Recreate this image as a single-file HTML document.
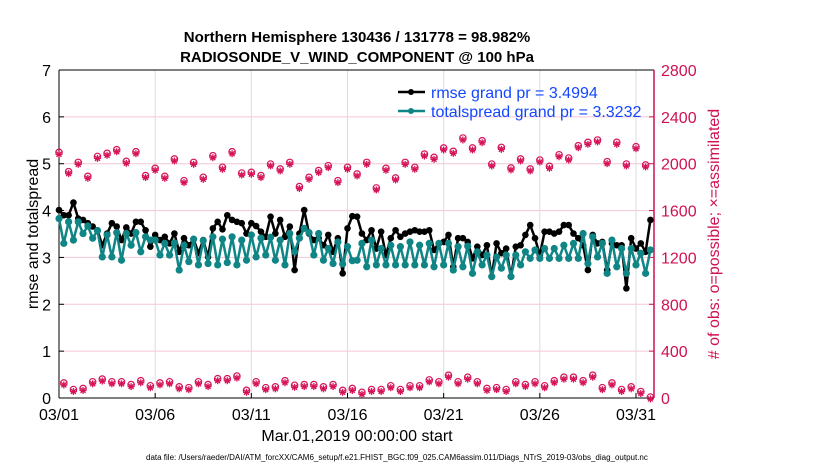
<!DOCTYPE html>
<html><head><meta charset="utf-8"><style>
body{margin:0;background:#fff;}
svg{display:block;font-family:"Liberation Sans",Arial,sans-serif;}
</style></head><body>
<svg id="chart" width="830" height="470" viewBox="0 0 830 470" xmlns="http://www.w3.org/2000/svg">
<rect width="830" height="470" fill="#fff"/>
<text x="357" y="42" text-anchor="middle" font-size="15" font-weight="bold" fill="#000">Northern Hemisphere 130436 / 131778 = 98.982%</text>
<text x="357" y="62" text-anchor="middle" font-size="15" font-weight="bold" fill="#000">RADIOSONDE_V_WIND_COMPONENT @ 100 hPa</text>
<g id="grid"></g>
<g id="axes"></g>
<g id="series"></g>
<text transform="translate(38,234) rotate(-90)" text-anchor="middle" font-size="16" fill="#000">rmse and totalspread</text>
<text transform="translate(719,234) rotate(-90)" text-anchor="middle" font-size="16" fill="#d0114f"># of obs: o=possible; ×=assimilated</text>
<text x="357" y="441" text-anchor="middle" font-size="16" fill="#000">Mar.01,2019 00:00:00 start</text>
<text x="146" y="460" font-size="8" fill="#000">data file: /Users/raeder/DAI/ATM_forcXX/CAM6_setup/f.e21.FHIST_BGC.f09_025.CAM6assim.011/Diags_NTrS_2019-03/obs_diag_output.nc</text>
<g>
<line x1="398" y1="92" x2="425" y2="92" stroke="#000" stroke-width="2.5"/>
<circle cx="411" cy="92" r="3" fill="#000"/>
<text x="431" y="98" font-size="16" fill="#1446ff">rmse grand pr = 3.4994</text>
<line x1="398" y1="111" x2="425" y2="111" stroke="#0f8585" stroke-width="2.5"/>
<circle cx="411" cy="111" r="3" fill="#0f8585"/>
<text x="431" y="117" font-size="16" fill="#1446ff">totalspread grand pr = 3.3232</text>
</g>
</svg>
<script>
const rmse=[4.01,3.90,3.90,4.17,3.83,3.80,3.73,3.66,3.58,3.26,3.51,3.73,3.66,3.37,3.64,3.51,3.76,3.76,3.58,3.23,3.48,3.37,3.44,3.30,3.51,3.12,3.41,3.26,3.39,3.09,3.37,3.01,3.62,3.76,3.60,3.90,3.80,3.76,3.73,3.51,3.73,3.67,3.55,3.44,3.87,3.51,3.80,3.44,3.66,2.73,3.51,4.01,3.51,3.37,3.41,3.26,3.48,3.12,3.41,2.66,3.62,3.88,
3.87,3.51,3.37,3.58,3.19,3.55,3.05,3.41,3.58,3.44,3.51,3.55,3.58,3.55,3.55,3.58,3.16,3.30,3.33,3.48,2.80,3.41,3.41,3.33,2.98,3.23,3.05,3.26,2.59,3.30,3.09,3.19,2.59,3.23,3.26,3.48,3.69,3.41,3.05,3.55,3.55,3.51,3.55,3.69,3.69,3.51,3.41,3.26,2.73,3.48,3.30,3.33,2.73,3.30,3.26,3.26,2.34,3.41,3.19,3.30,3.12,3.80];
const spread=[3.83,3.30,3.76,3.37,3.76,3.51,3.67,3.41,3.57,3.01,3.48,3.01,3.53,2.94,3.51,3.26,3.53,3.12,3.44,3.37,3.37,3.05,3.30,3.05,3.31,2.73,3.26,2.91,3.39,2.84,3.36,2.87,3.44,2.84,3.39,2.89,3.44,2.84,3.37,2.94,3.48,3.01,3.41,3.05,3.43,2.94,3.37,2.84,3.51,3.12,3.41,3.62,3.53,3.05,3.51,2.94,3.19,2.87,3.33,2.86,3.23,2.93,
2.94,3.30,2.80,3.37,2.84,3.19,2.84,3.26,2.84,3.23,2.84,3.33,2.84,3.26,2.84,3.30,2.80,3.30,2.84,3.30,2.73,3.23,2.80,3.24,2.66,3.12,2.84,3.05,2.59,3.01,2.77,3.05,2.59,3.05,2.84,3.12,2.98,3.16,2.98,3.19,2.98,3.19,2.98,3.26,2.98,3.30,2.98,3.51,2.87,3.44,3.01,3.30,2.66,3.37,2.80,3.19,2.66,3.19,2.84,3.09,2.66,3.16];
const obsMain=[2089,1924,2003,1884,2054,2080,2111,2012,2094,1890,1952,1884,2032,1847,2003,1875,2060,1961,2094,1912,1918,1890,1989,1947,2003,1796,1875,1933,1975,1847,1961,1904,
2003,1785,1952,1870,2003,1961,2074,2046,2126,2097,2211,2126,2188,1989,2131,1955,2032,1947,2023,1969,2068,2040,2145,2174,2194,2009,2174,1989,2137,1981];
const obsOff=[120,64,73,130,153,130,130,106,139,96,120,130,87,80,130,106,156,156,179,57,130,80,87,139,100,106,106,87,106,57,73,40,64,64,96,64,96,96,146,130,186,130,169,130,73,80,64,130,106,130,96,139,169,169,139,186,80,120,64,87,47,0];
const leftTicks=[0,1,2,3,4,5,6,7];
const rightTicks=[0,400,800,1200,1600,2000,2400,2800];
const dateTicks=["03/01","03/06","03/11","03/16","03/21","03/26","03/31"];
const dateTickDays=[0,5,10,15,20,25,30];

const X0=59,X1=654,Y0=398,Y1=70,PXDAY=19.233;
const xs=d=>X0+d*PXDAY;
const yl=v=>Y0-(v/7)*(Y0-Y1);
const yr=c=>Y0-(c/2800)*(Y0-Y1);
const NS="http://www.w3.org/2000/svg";
function mk(tag,attrs,parent){const e=document.createElementNS(NS,tag);for(const k in attrs)e.setAttribute(k,attrs[k]);parent.appendChild(e);return e;}
const grid=document.getElementById('grid'),axes=document.getElementById('axes'),ser=document.getElementById('series');

leftTicks.forEach(v=>{
  if(v>0&&v<7){const g=mk('line',{x1:X0,x2:X1,y1:yl(v),y2:yl(v),stroke:'#f2c8d6','stroke-width':1},grid);
  
  }
  const t=mk('text',{x:X0-8,y:yl(v)+6,'text-anchor':'end','font-size':16,fill:'#000'},axes);t.textContent=v;
  
  
  mk('line',{x1:X0,x2:X0+5,y1:yl(v),y2:yl(v),stroke:'#000'},axes);
});
rightTicks.forEach(c=>{
  const t=mk('text',{x:X1+7,y:yr(c)+6,'font-size':16,fill:'#d0114f'},axes);t.textContent=c;
  
  
  mk('line',{x1:X1-5,x2:X1,y1:yr(c),y2:yr(c),stroke:'#d0114f'},axes);
});
dateTicks.forEach((lab,i)=>{
  const x=xs(dateTickDays[i]);
  if(i>0){const g=mk('line',{x1:x,x2:x,y1:Y1,y2:Y0,stroke:'#dcdcdc','stroke-width':1},grid);
  
  }
  mk('line',{x1:x,x2:x,y1:Y0,y2:Y0-5,stroke:'#000'},axes);
  const t=mk('text',{x:x,y:Y0+22,'text-anchor':'middle','font-size':16,fill:'#000'},axes);t.textContent=lab;
  
  
});
mk('line',{x1:X0,x2:X1,y1:Y0,y2:Y0,stroke:'#000'},axes);
mk('line',{x1:X0,x2:X1,y1:Y1,y2:Y1,stroke:'#000'},axes);
mk('line',{x1:X0,x2:X0,y1:Y1,y2:Y0,stroke:'#000'},axes);
mk('line',{x1:X1,x2:X1,y1:Y1,y2:Y0,stroke:'#d0114f','stroke-width':1.5},axes);

function obsMarker(x,y,name){
  const g=mk('g',{},ser);
  
  
  const c='#d6145a';
  mk('circle',{cx:x,cy:y-1,r:3.2,fill:'none',stroke:c,'stroke-width':1.2},g);
  for(let a=0;a<4;a++){const an=a*Math.PI/4;mk('line',{x1:x-3.5*Math.cos(an),y1:y+1-3.5*Math.sin(an),x2:x+3.5*Math.cos(an),y2:y+1+3.5*Math.sin(an),stroke:c,'stroke-width':1.3},g);}
}
obsMain.forEach((c,i)=>obsMarker(xs(i*0.5),yr(c),'obs-count-marker'));
obsOff.forEach((c,i)=>obsMarker(xs(0.25+i*0.5),yr(c),'obs-count-offsynoptic-marker'));

function series(vals,color,r,name){
  const pts=vals.map((v,i)=>xs(i*0.25).toFixed(2)+','+yl(v).toFixed(2)).join(' ');
  const pl=mk('polyline',{points:pts,fill:'none',stroke:color,'stroke-width':2.5,'stroke-linejoin':'round'},ser);
  
  
  vals.forEach((v,i)=>{const c=mk('circle',{cx:xs(i*0.25),cy:yl(v),r:r,fill:color},ser);
    
    });
}
series(rmse,'#000',3.3,'rmse');
series(spread,'#0f8585',3.6,'totalspread');
</script>
</body></html>
